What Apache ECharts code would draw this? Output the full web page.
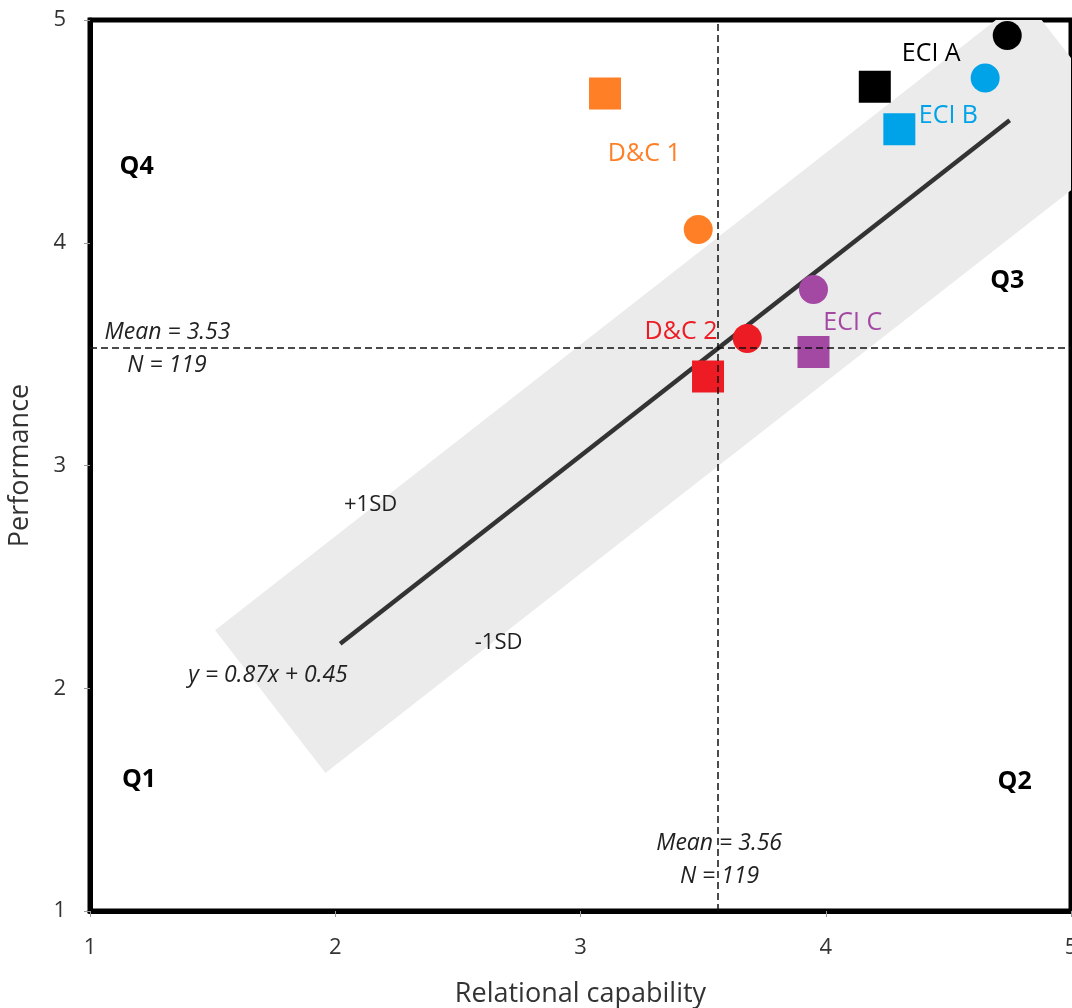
<!DOCTYPE html>
<html><head><meta charset="utf-8">
<script src="https://cdn.jsdelivr.net/npm/echarts@6/dist/echarts.min.js"></script>
<style>html,body{margin:0;padding:0;background:#fff}#c{width:1072px;height:1008px}</style>
</head><body><div id="c"></div>
<script>
// ---- data ----
const groupNames = ['ECI A', 'ECI B', 'ECI C', 'D&C 1', 'D&C 2'];
const circleX = [4.74, 4.65, 3.95, 3.48, 3.68];
const circleY = [4.93, 4.74, 3.79, 4.06, 3.57];
const squareX = [4.20, 4.30, 3.95, 3.10, 3.52];
const squareY = [4.70, 4.51, 3.51, 4.67, 3.40];
const groupLabelX = [4.43, 4.50, 4.11, 3.26, 3.41];
const groupLabelY = [4.85, 4.57, 3.64, 4.40, 3.60];
const fitX = [2.02, 4.75];
const fitY = [2.20, 4.55];
const bandX = [1.51, 1.96, 5.26, 4.81];
const bandY = [2.26, 1.62, 4.46, 5.10];
const meanX = 3.56;
const meanY = 3.53;
const quadrantNames = ['Q1', 'Q2', 'Q3', 'Q4'];
const quadrantX = [1.20, 4.77, 4.74, 1.19];
const quadrantY = [1.59, 1.58, 3.83, 4.34];
const noteTexts = ['Mean = 3.53', 'N = 119', 'Mean = 3.56', 'N = 119', '+1SD', '-1SD', 'y = 0.87x + 0.45'];
const noteItalic = [true, true, true, true, false, false, true];
const noteX = [1.316, 1.314, 3.565, 3.567, 2.144, 2.666, 1.726];
const noteY = [3.599, 3.451, 1.301, 1.153, 2.823, 2.203, 2.059];
const axisMin = 1, axisMax = 5, axisStep = 1;
const xName = 'Relational capability';
const yName = 'Performance';

// ---- styles ----
const groupColors = ['#000000', '#00a2e8', '#a349a4', '#ff7f27', '#ed1c24'];
const FONT = '"Open Sans", "Noto Sans", sans-serif';

const chart = echarts.init(document.getElementById('c'), null, {renderer: 'canvas'});

function textSeries(name, xs, ys, texts, styleFn, z) {
  return {
    type: 'scatter', name: name, silent: true, z: z,
    symbolSize: 1, itemStyle: {color: 'rgba(0,0,0,0)', opacity: 1},
    data: texts.map((t, i) => ({
      value: [xs[i], ys[i]], name: t,
      label: Object.assign({show: true, position: 'inside', formatter: '{b}', fontFamily: FONT, opacity: 1}, styleFn(i))
    }))
  };
}

const option = {
  animation: false,
  backgroundColor: '#ffffff',
  grid: {left: 90, right: 1, top: 20, bottom: 97, containLabel: false, outerBoundsMode: 'none',
         show: true, borderColor: '#000', borderWidth: 5, backgroundColor: 'transparent'},
  xAxis: {
    type: 'value', min: axisMin, max: axisMax, interval: axisStep,
    name: xName, nameLocation: 'middle', nameGap: 70,
    nameTextStyle: {fontFamily: FONT, fontSize: 27, color: '#333'},
    axisLine: {show: true, onZero: false, lineStyle: {color: '#000', width: 5}},
    axisTick: {show: true, length: 6, lineStyle: {color: '#999', width: 1}},
    axisLabel: {fontFamily: FONT, fontSize: 22, color: '#333', margin: 26},
    splitLine: {show: false}
  },
  yAxis: {
    type: 'value', min: axisMin, max: axisMax, interval: axisStep,
    name: yName, nameLocation: 'middle', nameGap: 56, nameRotate: 90,
    nameTextStyle: {fontFamily: FONT, fontSize: 27, color: '#333'},
    axisLine: {show: true, onZero: false, lineStyle: {color: '#000', width: 5}},
    axisTick: {show: true, length: 6, lineStyle: {color: '#999', width: 1}},
    axisLabel: {fontFamily: FONT, fontSize: 22, color: '#333', margin: 24},
    splitLine: {show: false}
  },
  series: [
    {
      type: 'custom', name: 'band', silent: true, clip: true, z: 1,
      data: [0],
      renderItem: function (params, api) {
        const pts = bandX.map((x, i) => api.coord([x, bandY[i]]));
        return {type: 'polygon', shape: {points: pts}, style: {fill: '#ebebeb', stroke: null}};
      }
    },
    {
      type: 'line', name: 'means', silent: true, z: 2, data: [],
      markLine: {
        silent: true, symbol: ['none', 'none'], label: {show: false},
        lineStyle: {color: '#111', type: [7, 4], width: 1.5, opacity: 1},
        data: [{xAxis: meanX}, {yAxis: meanY}]
      }
    },
    {
      type: 'line', name: 'fit', silent: true, z: 3, symbol: 'none',
      lineStyle: {color: '#333', width: 4.5, opacity: 1},
      data: fitX.map((x, i) => [x, fitY[i]])
    },
    {
      type: 'scatter', name: 'squares', silent: true, z: 4, symbol: 'rect', symbolSize: 32,
      data: squareX.map((x, i) => ({value: [x, squareY[i]], itemStyle: {color: groupColors[i], opacity: 1}}))
    },
    {
      type: 'scatter', name: 'circles', silent: true, z: 4, symbol: 'circle', symbolSize: 29,
      data: circleX.map((x, i) => ({value: [x, circleY[i]], itemStyle: {color: groupColors[i], opacity: 1}}))
    },
    textSeries('groupLabels', groupLabelX, groupLabelY, groupNames,
      i => ({fontSize: 25, color: groupColors[i]}), 5),
    textSeries('quadrants', quadrantX, quadrantY, quadrantNames,
      i => ({fontSize: 25, fontWeight: 'bold', color: '#000'}), 5),
    textSeries('notes', noteX, noteY, noteTexts,
      i => ({fontSize: noteItalic[i] ? 23 : 22, fontStyle: noteItalic[i] ? 'italic' : 'normal', color: '#222'}), 5)
  ]
};
chart.setOption(option);
</script>
</body></html>
